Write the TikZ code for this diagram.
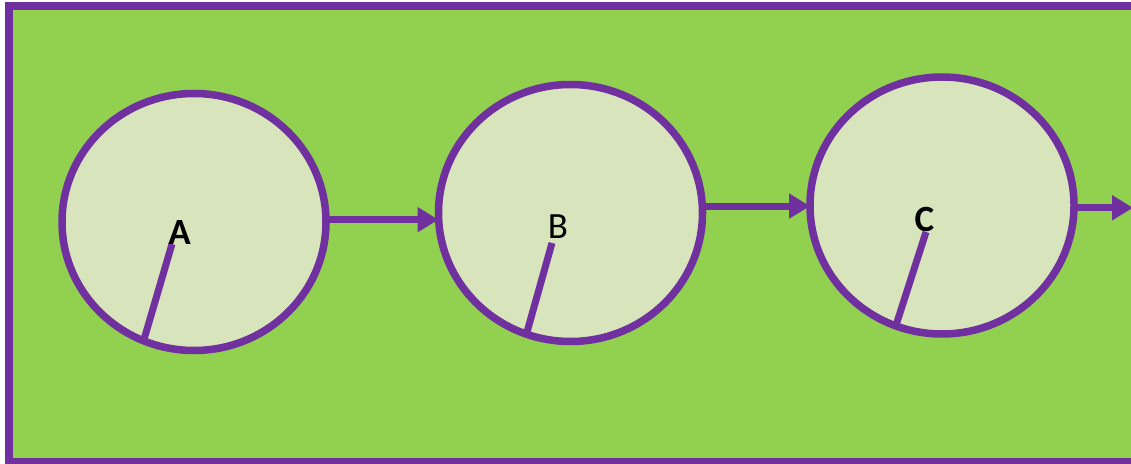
\documentclass[tikz,border=0pt]{standalone}
\usepackage{fontspec}
\setmainfont{Carlito}
\usetikzlibrary{shapes.geometric,arrows.meta}
\definecolor{leafgreen}{HTML}{92D050}
\definecolor{plum}{HTML}{7030A0}
\definecolor{paleolive}{HTML}{D8E4BC}
\begin{document}
\begin{tikzpicture}[x=1pt, y=1pt, every node/.style={font=\fontsize{37}{42}\selectfont, inner sep=0pt}, ring/.style={ellipse, draw=plum, line width=7.5pt, fill=paleolive, outer sep=0pt, minimum width=264pt, minimum height=257pt}, link/.style={draw=plum, line width=7pt, -{Triangle[length=21pt, width=24pt]}}, hand/.style={draw=plum, line width=7pt}]
	\useasboundingbox (0,0) rectangle (1131,463);
	\draw[plum, line width=8pt, fill=leafgreen] (9,1) rectangle (1145,457);
	\node[ring] (A) at (194,241) {};
	\node[ring] (B) at (570.5,250) {};
	\node[ring] (C) at (942,257.5) {};
	\coordinate (exit) at (1133,0);
	\draw[link] (A.1) -- (A.1 -| B.west);
	\draw[link] (B.3) -- (B.3 -| C.west);
	\draw[link] (C.359) -- (C.359 -| exit);
	\coordinate (ha) at (172,219);
	\coordinate (hb) at (552,220);
	\coordinate (hc) at (926,231);
	\draw[hand] (ha) -- (A.247);
	\draw[hand] (hb) -- (B.250.5);
	\draw[hand] (hc) -- (C.249);
	\node[font=\fontsize{37}{42}\selectfont\bfseries] (la) at (179.5,230) {A};
	\node (lb) at (558,236.5) {B};
	\node[font=\fontsize{37}{42}\selectfont\bfseries] (lc) at (924.5,243.5) {C};
\end{tikzpicture}
\end{document}
